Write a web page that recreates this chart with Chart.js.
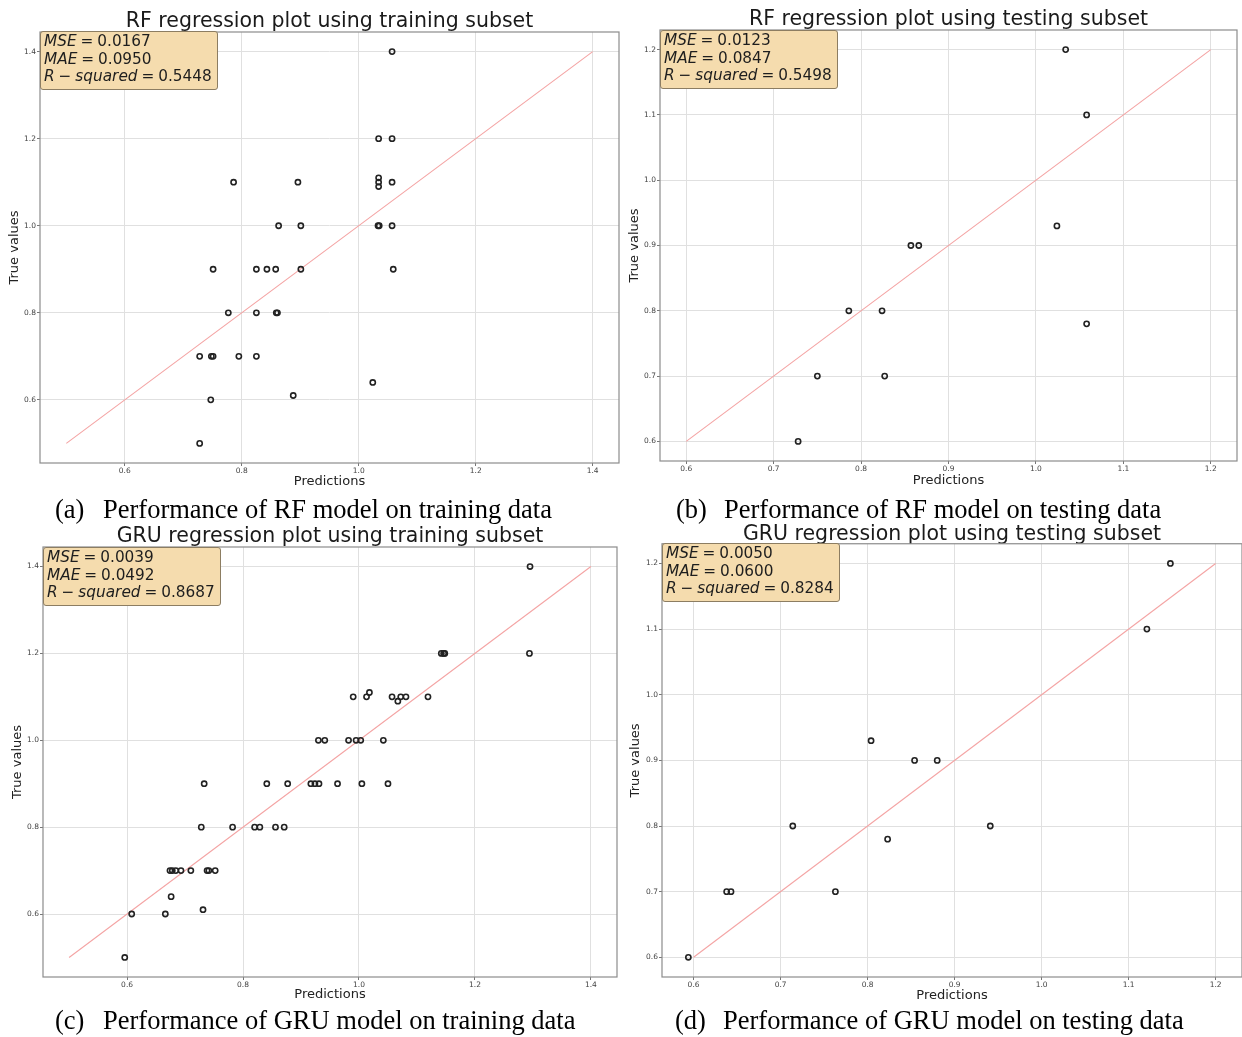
<!DOCTYPE html>
<html>
<head>
<meta charset="utf-8">
<script src="https://cdn.jsdelivr.net/npm/chart.js@4.4.1/dist/chart.umd.min.js"></script>
<style>
    body { margin: 0; background: #fff; width: 1242px; height: 1037px; position: relative; overflow: hidden; }
    canvas { position: absolute; }
    .stats {
        position: absolute;
        z-index: 2;
        font-family: "DejaVu Sans", sans-serif;
        font-size: 15.3px;
        line-height: 17.7px;
        word-spacing: -0.06em;
        color: #1e1e1e;
        background: #f5dcae;
        border: 1px solid #8c7d62;
        border-radius: 3px;
        padding: 1px 5px 3px 3px;
        white-space: nowrap;
    }
    .caption {
        position: absolute;
        font-family: "Liberation Serif", "Times New Roman", serif;
        font-size: 26.5px;
        line-height: 30px;
        color: #000;
        white-space: nowrap;
    }
    .caption span { display: inline-block; width: 48px; }
</style>
</head>
<body>

<script>
// ========== DATA ==========
// (a) RF, training subset
const rfTrainPred = [1.057, 1.034, 1.057, 0.786, 0.896, 1.034, 1.034, 1.034, 1.057, 0.863, 0.901, 1.033, 1.035, 1.057,
    0.751, 0.825, 0.843, 0.858, 0.901, 1.059, 0.777, 0.825, 0.859, 0.861, 0.728, 0.748, 0.751, 0.795, 0.825,
    1.024, 0.747, 0.888, 0.728];
const rfTrainTrue = [1.4, 1.2, 1.2, 1.1, 1.1, 1.11, 1.1, 1.09, 1.1, 1.0, 1.0, 1.0, 1.0, 1.0,
    0.9, 0.9, 0.9, 0.9, 0.9, 0.9, 0.8, 0.8, 0.8, 0.8, 0.7, 0.7, 0.7, 0.7, 0.7,
    0.64, 0.6, 0.61, 0.5];

// (b) RF, testing subset
const rfTestPred = [1.034, 1.058, 1.024, 0.857, 0.866, 0.786, 0.824, 1.058, 0.750, 0.827, 0.728];
const rfTestTrue = [1.2, 1.1, 0.93, 0.9, 0.9, 0.8, 0.8, 0.78, 0.7, 0.7, 0.6];

// (c) GRU, training subset
const gruTrainPred = [1.295, 1.294, 1.142, 1.146, 1.148, 0.990, 1.013, 1.018, 1.057, 1.067, 1.072, 1.081, 1.119,
    0.930, 0.941, 0.982, 0.995, 1.003, 1.042,
    0.733, 0.841, 0.877, 0.917, 0.924, 0.931, 0.963, 1.005, 1.050,
    0.728, 0.782, 0.820, 0.829, 0.856, 0.871,
    0.674, 0.678, 0.684, 0.693, 0.710, 0.738, 0.741, 0.752,
    0.676, 0.608, 0.666, 0.731, 0.596];
const gruTrainTrue = [1.4, 1.2, 1.2, 1.2, 1.2, 1.1, 1.1, 1.11, 1.1, 1.09, 1.1, 1.1, 1.1,
    1.0, 1.0, 1.0, 1.0, 1.0, 1.0,
    0.9, 0.9, 0.9, 0.9, 0.9, 0.9, 0.9, 0.9, 0.9,
    0.8, 0.8, 0.8, 0.8, 0.8, 0.8,
    0.7, 0.7, 0.7, 0.7, 0.7, 0.7, 0.7, 0.7,
    0.64, 0.6, 0.6, 0.61, 0.5];

// (d) GRU, testing subset
const gruTestPred = [1.148, 1.121, 0.804, 0.854, 0.880, 0.714, 0.941, 0.823, 0.638, 0.643, 0.763, 0.594];
const gruTestTrue = [1.2, 1.1, 0.93, 0.9, 0.9, 0.8, 0.8, 0.78, 0.7, 0.7, 0.7, 0.6];

// identity line end points
const trainIdeal = [0.5, 1.4];
const testIdeal = [0.6, 1.2];

// tick labels
const trainTicks = [0.6, 0.8, 1.0, 1.2, 1.4];
const testTicks = [0.6, 0.7, 0.8, 0.9, 1.0, 1.1, 1.2];

// metrics shown in the boxes
const metricNames = ['MSE', 'MAE', 'R-squared'];
const rfTrainMetrics = ['0.0167', '0.0950', '0.5448'];
const rfTestMetrics = ['0.0123', '0.0847', '0.5498'];
const gruTrainMetrics = ['0.0039', '0.0492', '0.8687'];
const gruTestMetrics = ['0.0050', '0.0600', '0.8284'];

// ========== HELPERS ==========
const toPoints = (xs, ys) => xs.map((x, i) => ({ x: x, y: ys[i] }));

const framePlugin = {
    id: 'frame',
    beforeDatasetsDraw(chart) {
        const { ctx, chartArea: a } = chart;
        ctx.save();
        ctx.strokeStyle = '#8c8c8c';
        ctx.lineWidth = 1.2;
        ctx.strokeRect(a.left, a.top, a.right - a.left, a.bottom - a.top);
        ctx.restore();
    }
};

function metricHtml(values) {
    return metricNames.map((name, i) => {
        const label = name === 'R-squared' ? '<i>R</i> \u2212 <i>squared</i>' : '<i>' + name + '</i>';
        return label + ' = ' + values[i];
    }).join('<br>');
}

function makePanel(p) {
    const canvas = document.createElement('canvas');
    canvas.width = p.box[2];
    canvas.height = p.box[3];
    canvas.style.left = p.box[0] + 'px';
    canvas.style.top = p.box[1] + 'px';
    document.body.appendChild(canvas);

    const tickFont = { family: 'DejaVu Sans', size: 7.5 };
    const axisTitleFont = { family: 'DejaVu Sans', size: 13 };

    new Chart(canvas.getContext('2d'), {
        type: 'scatter',
        data: {
            datasets: [{
                data: toPoints(p.pred, p.truth),
                pointRadius: 2.6,
                pointBorderWidth: 1.6,
                borderColor: '#222',
                backgroundColor: 'rgba(255,255,255,0)'
            }, {
                type: 'line',
                data: toPoints(p.ideal, p.ideal),
                borderColor: '#f4a4a4',
                borderWidth: 1.1,
                pointRadius: 0
            }]
        },
        options: {
            responsive: false,
            animation: false,
            events: [],
            layout: { autoPadding: false, padding: { left: 0, top: 0, right: p.padRight, bottom: 0 } },
            plugins: {
                legend: { display: false },
                tooltip: { enabled: false },
                title: {
                    display: true,
                    text: p.title,
                    fullSize: false,
                    color: '#1a1a1a',
                    font: { family: 'DejaVu Sans', size: 20.5, weight: 'normal', lineHeight: 0.9 },
                    padding: { top: p.titlePad[0], bottom: p.titlePad[1] }
                }
            },
            scales: {
                x: {
                    type: 'linear',
                    min: p.xRange[0],
                    max: p.xRange[1],
                    afterBuildTicks: (s) => { s.ticks = p.ticks.map(v => ({ value: v })); },
                    afterFit: (s) => { s.height = p.xHeight; s.paddingLeft = 0; s.paddingRight = 0; },
                    ticks: { font: tickFont, color: '#444', padding: 1, maxRotation: 0, autoSkip: false,
                        callback: (v) => v.toFixed(1) },
                    grid: { color: '#e0e0e0', lineWidth: 1, tickLength: 3, tickColor: '#777' },
                    border: { display: false },
                    title: { display: true, text: 'Predictions', color: '#222', font: axisTitleFont,
                        padding: { top: 0, bottom: p.xTitlePad } }
                },
                y: {
                    type: 'linear',
                    min: p.yRange[0],
                    max: p.yRange[1],
                    afterBuildTicks: (s) => { s.ticks = p.ticks.map(v => ({ value: v })); },
                    afterFit: (s) => { s.width = p.yWidth; s.paddingTop = 0; s.paddingBottom = 0; },
                    ticks: { font: tickFont, color: '#444', padding: 1, autoSkip: false,
                        callback: (v) => v.toFixed(1) },
                    grid: { color: '#e0e0e0', lineWidth: 1, tickLength: 3, tickColor: '#777' },
                    border: { display: false },
                    title: { display: true, text: 'True values', color: '#222', font: axisTitleFont,
                        padding: { top: p.yTitlePad, bottom: 0 } }
                }
            }
        },
        plugins: [framePlugin]
    });

    const stats = document.createElement('div');
    stats.className = 'stats';
    stats.style.left = p.statsAt[0] + 'px';
    stats.style.top = p.statsAt[1] + 'px';
    stats.innerHTML = metricHtml(p.metrics);
    document.body.appendChild(stats);

    const cap = document.createElement('div');
    cap.className = 'caption';
    cap.style.left = p.captionAt[0] + 'px';
    cap.style.top = p.captionAt[1] + 'px';
    cap.innerHTML = '<span>' + p.tag + '</span>' + p.caption;
    document.body.appendChild(cap);
}

// ========== PANELS ==========
makePanel({
    box: [0, 0, 620, 495], padRight: 1, yWidth: 40, xHeight: 32, titlePad: [12.8, 0.75],
    xTitlePad: 5.5, yTitlePad: 7, xRange: [0.455, 1.445], yRange: [0.455, 1.445], ticks: trainTicks,
    pred: rfTrainPred, truth: rfTrainTrue, ideal: trainIdeal,
    title: 'RF regression plot using training subset',
    metrics: rfTrainMetrics, statsAt: [40, 31],
    tag: '(a)', caption: 'Performance of RF model on training data', captionAt: [55, 494]
});

makePanel({
    box: [620, 0, 622, 495], padRight: 5, yWidth: 40, xHeight: 34, titlePad: [10.8, 0.75],
    xTitlePad: 7, yTitlePad: 7, xRange: [0.57, 1.23], yRange: [0.57, 1.23], ticks: testTicks,
    pred: rfTestPred, truth: rfTestTrue, ideal: testIdeal,
    title: 'RF regression plot using testing subset',
    metrics: rfTestMetrics, statsAt: [660, 30],
    tag: '(b)', caption: 'Performance of RF model on testing data', captionAt: [676, 494]
});

makePanel({
    box: [0, 515, 620, 495], padRight: 3, yWidth: 43, xHeight: 33, titlePad: [12.8, 0.75],
    xTitlePad: 8, yTitlePad: 10, xRange: [0.455, 1.445], yRange: [0.455, 1.445], ticks: trainTicks,
    pred: gruTrainPred, truth: gruTrainTrue, ideal: trainIdeal,
    title: 'GRU regression plot using training subset',
    metrics: gruTrainMetrics, statsAt: [43, 547],
    tag: '(c)', caption: 'Performance of GRU model on training data', captionAt: [55, 1005]
});

makePanel({
    box: [620, 515, 622, 495], padRight: 0, yWidth: 42, xHeight: 33, titlePad: [10.3, 0],
    xTitlePad: 6.5, yTitlePad: 8, xRange: [0.5637, 1.2303], yRange: [0.57, 1.23], ticks: testTicks,
    pred: gruTestPred, truth: gruTestTrue, ideal: testIdeal,
    title: 'GRU regression plot using testing subset',
    metrics: gruTestMetrics, statsAt: [662, 543],
    tag: '(d)', caption: 'Performance of GRU model on testing data', captionAt: [675, 1005]
});
</script>
</body>
</html>
